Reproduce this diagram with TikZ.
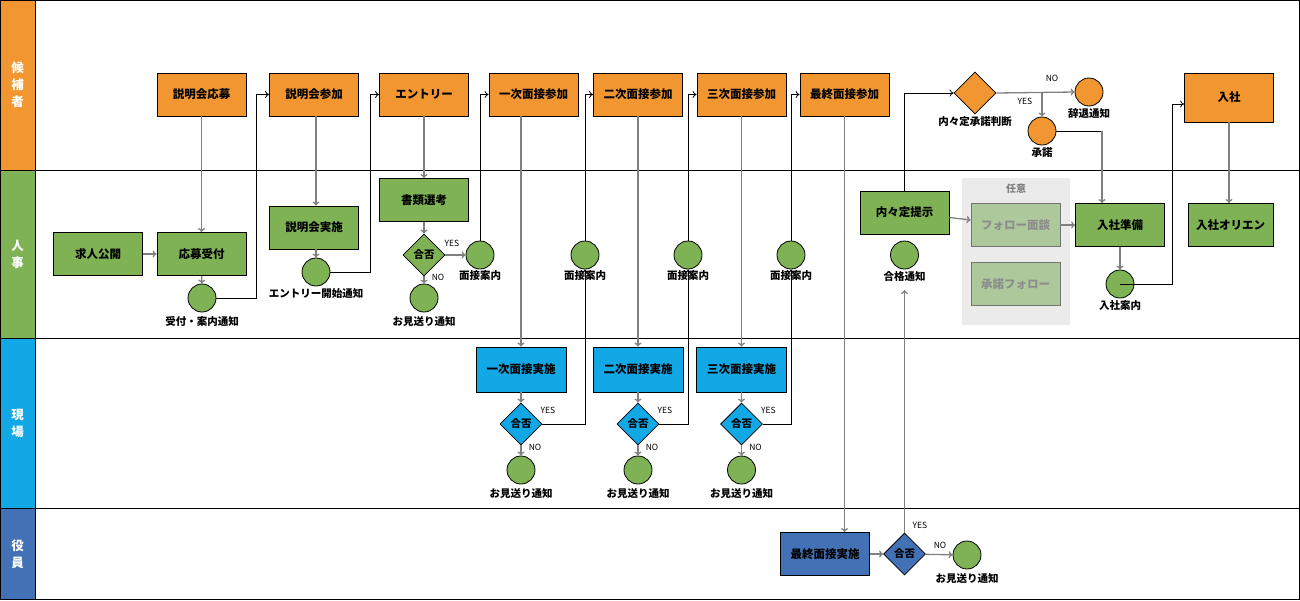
\documentclass[tikz,border=0pt]{standalone}
\usepackage{fontspec}
\setmainfont{Noto Sans CJK JP}
\usetikzlibrary{shapes.geometric,arrows.meta}
\definecolor{cor}{HTML}{F29631}
\definecolor{cgr}{HTML}{7FB255}
\definecolor{cbl}{HTML}{12A8E6}
\definecolor{cdb}{HTML}{4371B5}
\definecolor{cfd}{HTML}{ADC99B}
\definecolor{cln}{HTML}{808080}
\begin{document}
\begin{tikzpicture}[x=1pt,y=-1pt,
 box/.style={draw=black,line width=0.8pt,minimum width=89,minimum height=43,inner sep=1pt,font=\bfseries\fontsize{11.5}{13}\selectfont},
 circ/.style={circle,draw=black,line width=0.8pt,minimum size=28,inner sep=0,fill=cgr},
 dia/.style={diamond,draw=black,line width=0.8pt,minimum size=42,inner sep=0,font=\bfseries\fontsize{10.5}{12}\selectfont},
 lab/.style={font=\bfseries\fontsize{10.5}{12}\selectfont,inner sep=1pt},
 yn/.style={font=\fontsize{8.5}{10}\selectfont,inner sep=1pt},
 g/.style={draw=cln,line width=1.3pt,-{To[length=4pt,width=7pt]}},
 k/.style={draw=black,line width=0.8pt,-{To[length=4pt,width=7pt]}},
 hd/.style={text=white,font=\bfseries\fontsize{12.5}{17}\selectfont,align=center}]
\useasboundingbox (0,0) rectangle (1300,600);
% lanes header
\fill[cor] (0,0) rectangle (35,170);
\fill[cgr] (0,170) rectangle (35,338);
\fill[cbl] (0,338) rectangle (35,508);
\fill[cdb] (0,508) rectangle (35,600);
\node[hd] (h1) at (17.5,85) {候\\補\\者};
\node[hd] (h2) at (17.5,254) {人\\事};
\node[hd] (h3) at (17.5,423) {現\\場};
\node[hd] (h4) at (17.5,554) {役\\員};
\draw[line width=0.8pt] (0.4,0.4) rectangle (1299.6,599.6);
\draw[line width=0.8pt] (35,0) -- (35,600);
\draw[line width=0.8pt] (0,170) -- (1300,170) (0,338) -- (1300,338) (0,508) -- (1300,508);
% optional area
\fill[black!8] (962,178) rectangle (1070,325);
\node[font=\bfseries\fontsize{10}{12}\selectfont,text=black!50] (ni) at (1016,189) {任意};
% candidate row
\node[box,fill=cor] (b1) at (201.5,94.5) {説明会応募};
\node[box,fill=cor] (b2) at (314,94.5) {説明会参加};
\node[box,fill=cor] (b3) at (424,94.5) {エントリー};
\node[box,fill=cor] (b4) at (533.5,94.5) {一次面接参加};
\node[box,fill=cor] (b5) at (638,94.5) {二次面接参加};
\node[box,fill=cor] (b6) at (741.5,94.5) {三次面接参加};
\node[box,fill=cor] (b7) at (844.5,94.5) {最終面接参加};
\node[box,fill=cor,minimum height=49] (ny) at (1229,97.5) {入社};
\node[dia,fill=cor] (jd) at (975,93) {};
\node[lab] (jdl) at (975,122) {内々定承諾判断};
\node[circ,fill=cor,label={[lab,label distance=1pt]below:辞退通知}] (c9) at (1089,92) {};
\node[circ,fill=cor,label={[lab,label distance=1pt]below:承諾}] (c10) at (1042,131) {};
% HR row
\node[box,fill=cgr] (kj) at (98,254) {求人公開};
\node[box,fill=cgr] (r1) at (201.5,254) {応募受付};
\node[circ,label={[lab,label distance=3pt]below:受付・案内通知}] (c1) at (202,298) {};
\node[box,fill=cgr] (r2) at (314,227.5) {説明会実施};
\node[circ,label={[lab,label distance=1pt]below:エントリー開始通知}] (c2) at (316,272) {};
\node[box,fill=cgr] (r3) at (424,200) {書類選考};
\node[dia,fill=cgr] (d1) at (424,255) {合否};
\node[circ,label={[lab,label distance=0pt]below:面接案内}] (c3) at (480,255) {};
\node[circ,label={[lab,label distance=3pt]below:お見送り通知}] (c4) at (424,298) {};
\node[circ,label={[lab,label distance=0pt]below:面接案内}] (c5) at (585,255) {};
\node[circ,label={[lab,label distance=0pt]below:面接案内}] (c6) at (688,255) {};
\node[circ,label={[lab,label distance=0pt]below:面接案内}] (c7) at (791,255) {};
\node[box,fill=cgr] (nn) at (904.5,212.5) {内々定提示};
\node[circ,label={[lab,label distance=1pt]below:合格通知}] (c8) at (904.5,255) {};
\node[box,fill=cfd,draw=black!55,text=black!45] (fo1) at (1015.5,225) {フォロー面談};
\node[box,fill=cfd,draw=black!55,text=black!45] (fo2) at (1015.5,284) {承諾フォロー};
\node[box,fill=cgr] (nj) at (1120,225) {入社準備};
\node[circ,label={[lab,label distance=1pt]below:入社案内}] (c11) at (1120,284) {};
\node[box,fill=cgr,minimum width=85] (no) at (1230.5,225) {入社オリエン};
% field row
\foreach \n/\x/\t in {1/521/一次面接実施,2/638/二次面接実施,3/741.5/三次面接実施}{
 \node[box,fill=cbl,minimum width=90,minimum height=45] (f\n) at (\x,369.5) {\t};
 \node[dia,fill=cbl] (fd\n) at (\x,424) {合否};
 \node[circ,label={[lab,label distance=3pt]below:お見送り通知}] (fc\n) at (\x,470) {};
 \node[yn] (fy\n) at (\x+27,410) {YES};
 \node[yn] (fn\n) at (\x+14,447) {NO};
 \draw[g] (f\n) -- (fd\n);
 \draw[g] (fd\n) -- (fc\n);
}
% executive row
\node[box,fill=cdb] (e1) at (825,554) {最終面接実施};
\node[dia,fill=cdb] (ed) at (904.5,554) {合否};
\node[circ,label={[lab,label distance=3pt]below:お見送り通知}] (ec) at (967,555) {};
\node[yn] (ey) at (920,525) {YES};
\node[yn] (en) at (940,545) {NO};
\node[yn] (dy) at (452,243) {YES};
\node[yn] (dn) at (438,277) {NO};
\node[yn] (jn) at (1052,78) {NO};
\node[yn] (jy) at (1025,101) {YES};
% connectors
\draw[g] (b1) -- (r1);
\draw[g] (kj) -- (r1);
\draw[g] (r1) -- (c1);
\draw[k] (c1.east) -- ++(40,0) |- (b2.west);
\draw[g] (b2.south -| c2) -- (r2.north -| c2);
\draw[g] (r2.south -| c2) -- (c2);
\draw[k] (c2.east) -- ++(40,0) |- (b3.west);
\draw[g] (b3) -- (r3);
\draw[g] (r3) -- (d1);
\draw[g] (d1) -- (c3);
\draw[g] (d1) -- (c4);
\draw[k] (c3.north) |- (b4.west);
\draw[g] (b4.south -| f1) -- (f1);
\draw[k] (fd1.east) -| (c5.south);
\draw[k] (c5.north) |- (b5.west);
\draw[g] (b5) -- (f2);
\draw[k] (fd2.east) -| (c6.south);
\draw[k] (c6.north) |- (b6.west);
\draw[g] (b6) -- (f3);
\draw[k] (fd3.east) -| (c7.south);
\draw[k] (c7.north) |- (b7.west);
\draw[g] (b7.south) -- (b7.south |- e1.north);
\draw[g] (e1) -- (ed);
\draw[g] (ed) -- (ec);
\coordinate (p0) at (904.5,290);
\draw[g] (ed.north) -- (p0);
\draw[k] (nn.north) |- (jd.west);
\draw[g] (jd.east) -- (c9.west);
\draw[g] (jd.east -| c10) -- (c10.north);
\coordinate (p1) at (1102,131);
\draw[k,-] (c10.east) -- (p1);
\draw[g] (p1) -- (p1 |- nj.north);
\draw[g] (nn) -- (fo1);
\draw[g] (fo1) -- (nj);
\draw[g] (nj) -- (c11);
\coordinate (p2) at (1172,104);
\draw[k] (c11.center) -| (p2) -- (p2 -| ny.west);
\draw[g] (ny) -- (ny |- no.north);
\end{tikzpicture}
\end{document}
